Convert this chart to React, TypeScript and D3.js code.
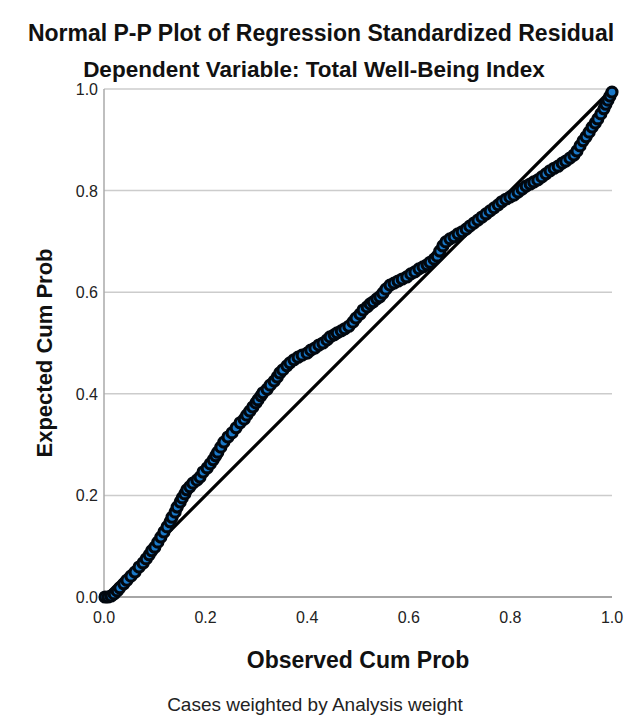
import React from "react";
import * as d3 from "d3";

const title = "Normal P-P Plot of Regression Standardized Residual";
const subtitle = "Dependent Variable: Total Well-Being Index";
const xTitle = "Observed Cum Prob";
const yTitle = "Expected Cum Prob";
const footer = "Cases weighted by Analysis weight";
const tickValues = [0, 0.2, 0.4, 0.6, 0.8, 1.0];
const gridValues = [0.2, 0.4, 0.6, 0.8, 1.0];

const observed = [
  0.002, 0.008, 0.014, 0.020, 0.026, 0.031, 0.039, 0.045, 0.053, 0.061,
  0.069, 0.077, 0.083, 0.089, 0.094, 0.100, 0.106, 0.112, 0.118, 0.124,
  0.130, 0.134, 0.140, 0.144, 0.150, 0.154, 0.159, 0.163, 0.169, 0.175,
  0.183, 0.189, 0.195, 0.203, 0.209, 0.215, 0.220, 0.224, 0.230, 0.236,
  0.244, 0.252, 0.260, 0.268, 0.276, 0.281, 0.287, 0.293, 0.299, 0.303,
  0.309, 0.313, 0.321, 0.327, 0.335, 0.341, 0.346, 0.352, 0.360, 0.366,
  0.374, 0.382, 0.390, 0.400, 0.407, 0.415, 0.423, 0.431, 0.439, 0.445,
  0.453, 0.459, 0.467, 0.474, 0.482, 0.490, 0.496, 0.504, 0.510, 0.518,
  0.524, 0.530, 0.537, 0.543, 0.549, 0.555, 0.563, 0.571, 0.579, 0.587,
  0.596, 0.604, 0.612, 0.620, 0.628, 0.636, 0.642, 0.650, 0.656, 0.661,
  0.667, 0.673, 0.681, 0.689, 0.697, 0.705, 0.713, 0.720, 0.728, 0.736,
  0.744, 0.752, 0.760, 0.768, 0.776, 0.783, 0.791, 0.799, 0.807, 0.815,
  0.823, 0.831, 0.839, 0.846, 0.854, 0.862, 0.870, 0.878, 0.886, 0.894,
  0.902, 0.909, 0.917, 0.925, 0.931, 0.937, 0.943, 0.949, 0.955, 0.961,
  0.967, 0.972, 0.978, 0.984, 0.988, 0.992, 0.996, 1.000,
];

const expected = [
  0.000, 0.000, 0.002, 0.006, 0.012, 0.018, 0.026, 0.033, 0.041, 0.049,
  0.059, 0.067, 0.075, 0.083, 0.091, 0.098, 0.108, 0.118, 0.128, 0.138,
  0.148, 0.157, 0.167, 0.177, 0.187, 0.195, 0.203, 0.211, 0.217, 0.224,
  0.230, 0.236, 0.246, 0.254, 0.262, 0.270, 0.278, 0.285, 0.295, 0.305,
  0.315, 0.323, 0.333, 0.343, 0.350, 0.358, 0.366, 0.374, 0.382, 0.388,
  0.396, 0.402, 0.409, 0.417, 0.425, 0.433, 0.441, 0.447, 0.455, 0.461,
  0.467, 0.472, 0.476, 0.480, 0.486, 0.490, 0.496, 0.500, 0.506, 0.512,
  0.516, 0.520, 0.524, 0.528, 0.533, 0.541, 0.549, 0.557, 0.565, 0.571,
  0.577, 0.581, 0.587, 0.591, 0.598, 0.606, 0.614, 0.618, 0.622, 0.626,
  0.630, 0.636, 0.640, 0.646, 0.650, 0.654, 0.659, 0.665, 0.671, 0.681,
  0.691, 0.699, 0.705, 0.709, 0.715, 0.719, 0.724, 0.730, 0.736, 0.742,
  0.748, 0.754, 0.760, 0.766, 0.772, 0.778, 0.783, 0.787, 0.791, 0.797,
  0.803, 0.809, 0.813, 0.817, 0.821, 0.827, 0.833, 0.839, 0.844, 0.848,
  0.854, 0.858, 0.864, 0.870, 0.878, 0.888, 0.898, 0.906, 0.915, 0.925,
  0.933, 0.941, 0.951, 0.961, 0.970, 0.978, 0.986, 0.994,
];

const W = 627;
const H = 718;
const left = 104;
const right = 612;
const top = 89;
const bottom = 597;
const FONT = "'Liberation Sans', Arial, sans-serif";

export default function App() {
  const x = d3.scaleLinear().domain([0, 1]).range([left, right]);
  const y = d3.scaleLinear().domain([0, 1]).range([bottom, top]);
  const fmt = d3.format(".1f");
  const pts = observed.map((o, i) => [o, expected[i]] as [number, number]);

  return (
    <svg
      width={W}
      height={H}
      style={{ position: "absolute", left: 0, top: 0, background: "#fff" }}
      fontFamily={FONT}
    >
      <rect width={W} height={H} fill="#fff" />
      <text x={321} y={41} textAnchor="middle" fontSize={23} fontWeight="bold" fill="#111">
        {title}
      </text>
      <text x={314} y={77} textAnchor="middle" fontSize={22.5} fontWeight="bold" fill="#111">
        {subtitle}
      </text>

      {gridValues.map((g) => (
        <line key={g} x1={left} x2={right} y1={y(g)} y2={y(g)} stroke="#cccccc" strokeWidth={1.5} />
      ))}
      <line x1={left} x2={left} y1={top} y2={bottom} stroke="#aaaaaa" strokeWidth={1.5} />
      <line x1={left} x2={right} y1={bottom} y2={bottom} stroke="#888888" strokeWidth={1.5} />

      {tickValues.map((t) => (
        <text key={"y" + t} x={left - 6} y={y(t) + 6} textAnchor="end" fontSize={16} fill="#222">
          {fmt(t)}
        </text>
      ))}
      {tickValues.map((t) => (
        <text key={"x" + t} x={x(t)} y={bottom + 26} textAnchor="middle" fontSize={16} fill="#222">
          {fmt(t)}
        </text>
      ))}

      <line x1={x(0)} y1={y(0)} x2={x(1)} y2={y(1)} stroke="#000" strokeWidth={3.2} />

      {pts.map(([o, e], i) => (
        <circle
          key={i}
          cx={x(o)}
          cy={y(e)}
          r={5}
          fill="#1a78c8"
          stroke="#02080f"
          strokeWidth={3.2}
        />
      ))}

      <text x={358} y={668} textAnchor="middle" fontSize={23} fontWeight="bold" fill="#111">
        {xTitle}
      </text>
      <text
        transform={`translate(52, ${(top + bottom) / 2 + 10}) rotate(-90)`}
        textAnchor="middle"
        fontSize={22}
        fontWeight="bold"
        fill="#111"
      >
        {yTitle}
      </text>
      <text x={315} y={711} textAnchor="middle" fontSize={19} fill="#222">
        {footer}
      </text>
    </svg>
  );
}
